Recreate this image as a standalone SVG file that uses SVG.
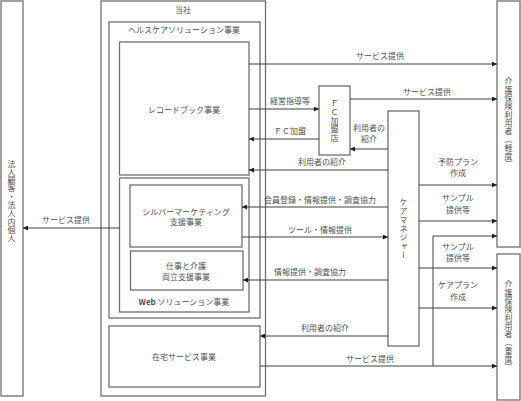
<svg xmlns="http://www.w3.org/2000/svg" width="521" height="401" viewBox="0 0 521 401">
<defs>
<style>
.box{fill:#fff;stroke:#707070;stroke-width:1.3}
.ln{fill:none;stroke:#404040;stroke-width:1}
.t{font-family:"Noto Sans CJK JP","Noto Sans",sans-serif;font-size:8px;fill:#505050;text-anchor:middle}
.v{writing-mode:vertical-rl;text-orientation:mixed}
</style>
<marker id="ah" viewBox="0 0 6 6" refX="6" refY="3" markerWidth="5" markerHeight="5" orient="auto" markerUnits="userSpaceOnUse">
<path d="M0,0 L6,3 L0,6 z" fill="#202020"/>
</marker>
</defs>
<rect width="521" height="401" fill="#fff"/>

<g id="hojin">
<rect class="box" x="1" y="1" width="22" height="395"/>
<text class="t v" x="11.5" y="201" letter-spacing="0.3">法人顧客・法人内個人</text>
</g>

<g id="tosha">
<rect class="box" x="101" y="1" width="164.5" height="395"/>
<text class="t" x="183" y="13">当社</text>
</g>

<g id="healthcare">
<rect class="box" x="109" y="22" width="151" height="296"/>
<text class="t" x="184" y="33">ヘルスケアソリューション事業</text>
</g>

<g id="recordbook">
<rect class="box" x="119.5" y="42" width="129.5" height="133"/>
<text class="t" x="184" y="113">レコードブック事業</text>
</g>

<g id="websol">
<rect class="box" x="119.5" y="178" width="129.5" height="134"/>
<text class="t" x="184" y="305"><tspan font-weight="bold">Web</tspan> ソリューション事業</text>
</g>

<g id="silver">
<rect class="box" x="130" y="185" width="112" height="62"/>
<text class="t" x="186" y="215">シルバーマーケティング</text>
<text class="t" x="186" y="225">支援事業</text>
</g>

<g id="shigoto">
<rect class="box" x="130.5" y="251" width="112.5" height="39"/>
<text class="t" x="186" y="269">仕事と介護</text>
<text class="t" x="186" y="280">両立支援事業</text>
</g>

<g id="zaitaku">
<rect class="box" x="109" y="326" width="151" height="61"/>
<text class="t" x="184" y="360">在宅サービス事業</text>
</g>

<g id="fc">
<rect class="box" x="319" y="86" width="31" height="69"/>
<text class="t v" x="334.5" y="121" letter-spacing="0.8">ＦＣ加盟店</text>
</g>

<g id="caremanager">
<rect class="box" x="388" y="111" width="31" height="235"/>
<text class="t v" x="403.5" y="229" letter-spacing="0.8">ケアマネジャー</text>
</g>

<g id="kei">
<rect class="box" x="497" y="1" width="23" height="246"/>
<text class="t v" x="508.5" y="123" letter-spacing="0.3">介護保険利用者（軽度）</text>
</g>

<g id="ju">
<rect class="box" x="497" y="254" width="23" height="146"/>
<text class="t v" x="508.5" y="326" letter-spacing="0.3">介護保険利用者（重度）</text>
</g>

<g id="connectors">
<line class="ln" x1="249" y1="64" x2="497" y2="64" marker-end="url(#ah)"/>
<line class="ln" x1="350" y1="99" x2="497" y2="99" marker-end="url(#ah)"/>
<line class="ln" x1="249" y1="109" x2="319" y2="109" marker-end="url(#ah)"/>
<line class="ln" x1="319" y1="139" x2="249" y2="139" marker-end="url(#ah)"/>
<line class="ln" x1="388" y1="149" x2="350" y2="149" marker-end="url(#ah)"/>
<line class="ln" x1="388" y1="170" x2="249" y2="170" marker-end="url(#ah)"/>
<line class="ln" x1="388" y1="207" x2="242" y2="207" marker-end="url(#ah)"/>
<line class="ln" x1="242" y1="237" x2="388" y2="237" marker-end="url(#ah)"/>
<line class="ln" x1="388" y1="280" x2="243" y2="280" marker-end="url(#ah)"/>
<line class="ln" x1="388" y1="336" x2="260" y2="336" marker-end="url(#ah)"/>
<line class="ln" x1="260" y1="366" x2="497" y2="366" marker-end="url(#ah)"/>
<polyline class="ln" points="433,366 433,236 497,236" marker-end="url(#ah)"/>
<line class="ln" x1="119.5" y1="228" x2="23" y2="228" marker-end="url(#ah)"/>
<line class="ln" x1="419" y1="185" x2="497" y2="185" marker-end="url(#ah)"/>
<line class="ln" x1="419" y1="221" x2="497" y2="221" marker-end="url(#ah)"/>
<line class="ln" x1="419" y1="268" x2="497" y2="268" marker-end="url(#ah)"/>
<line class="ln" x1="419" y1="308" x2="497" y2="308" marker-end="url(#ah)"/>

<text class="t" x="380" y="59">サービス提供</text>
<text class="t" x="427" y="95">サービス提供</text>
<text class="t" x="290" y="104">経営指導等</text>
<text class="t" x="290" y="134">ＦＣ加盟</text>
<text class="t" x="369" y="131">利用者の</text>
<text class="t" x="369" y="142">紹介</text>
<text class="t" x="322" y="165">利用者の紹介</text>
<text class="t" x="320" y="203">会員登録・情報提供・調査協力</text>
<text class="t" x="320" y="233">ツール・情報提供</text>
<text class="t" x="310" y="275">情報提供・調査協力</text>
<text class="t" x="325" y="331">利用者の紹介</text>
<text class="t" x="370" y="362">サービス提供</text>
<text class="t" x="66" y="223">サービス提供</text>
<text class="t" x="458" y="165">予防プラン</text>
<text class="t" x="458" y="176">作成</text>
<text class="t" x="458" y="201">サンプル</text>
<text class="t" x="458" y="213">提供等</text>
<text class="t" x="458" y="250">サンプル</text>
<text class="t" x="458" y="261">提供等</text>
<text class="t" x="458" y="288">ケアプラン</text>
<text class="t" x="458" y="300">作成</text>
</g>
</svg>
